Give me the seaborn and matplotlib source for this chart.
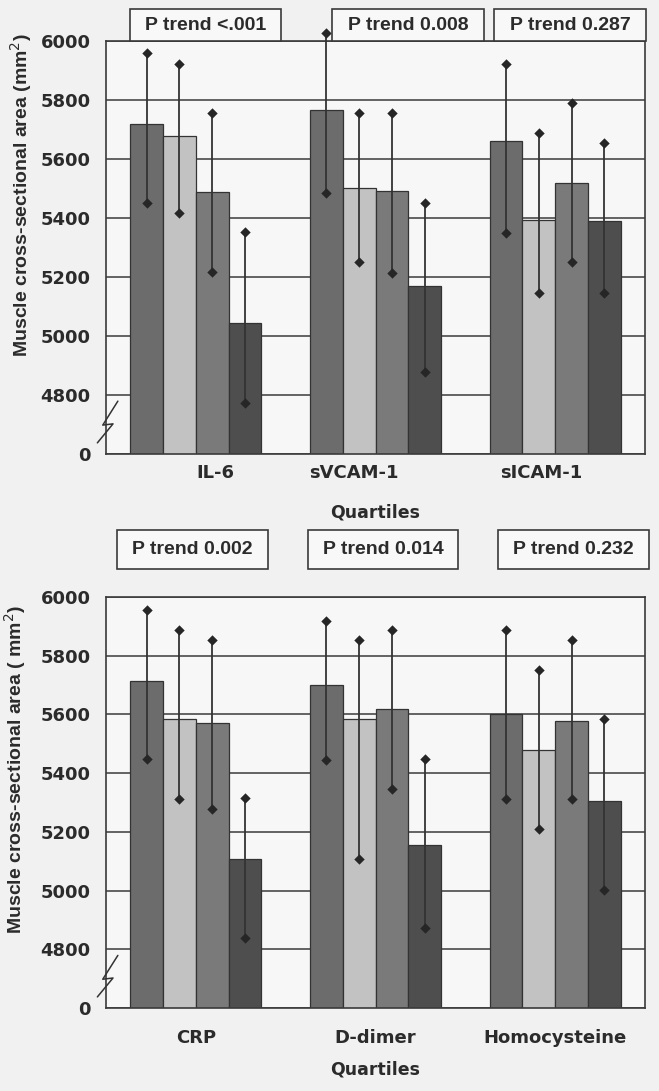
import matplotlib
matplotlib.use("Agg")
import matplotlib.pyplot as plt
from matplotlib.patches import Rectangle
import numpy as np
import pandas as pd
import seaborn as sns

# ---- data ----
quartiles = ["Q1", "Q2", "Q3", "Q4"]

top_markers = ["IL-6", "sVCAM-1", "sICAM-1"]
top_means = [[5718, 5679, 5489, 5045], [5767, 5501, 5493, 5170], [5662, 5393, 5518, 5390]]
top_upper = [[5958, 5922, 5755, 5352], [6026, 5755, 5755, 5452], [5922, 5687, 5789, 5653]]
top_lower = [[5452, 5416, 5218, 4774], [5486, 5252, 5212, 4879], [5348, 5145, 5252, 5147]]
top_ptrend = ["P trend <.001", "P trend 0.008", "P trend 0.287"]

bottom_markers = ["CRP", "D-dimer", "Homocysteine"]
bottom_means = [[5714, 5585, 5572, 5108], [5700, 5586, 5619, 5156], [5603, 5480, 5578, 5304]]
bottom_upper = [[5955, 5887, 5853, 5315], [5919, 5853, 5887, 5447], [5887, 5753, 5853, 5583]]
bottom_lower = [[5447, 5313, 5279, 4839], [5444, 5109, 5345, 4873], [5313, 5211, 5311, 5003]]
bottom_ptrend = ["P trend 0.002", "P trend 0.014", "P trend 0.232"]

y_ticks = [4600, 4800, 5000, 5200, 5400, 5600, 5800, 6000]
y_ticklabels = ["0", "4800", "5000", "5200", "5400", "5600", "5800", "6000"]

bar_colors = ["#6c6c6c", "#c2c2c2", "#7a7a7a", "#4e4e4e"]
ink = "#2b2b2b"
W, H = 659, 1091


def make_frame(markers, means, lower, upper):
    rows = []
    for i, m in enumerate(markers):
        for j, q in enumerate(quartiles):
            rows.append({"marker": m, "quartile": q, "value": means[i][j],
                         "lo": lower[i][j], "hi": upper[i][j]})
    return pd.DataFrame(rows)


def fig_rect(x0, y0, x1, y1):
    # pixel box (top-left origin) -> figure fraction rectangle
    return x0 / W, 1 - y1 / H, (x1 - x0) / W, (y1 - y0) / H


def draw_panel(fig, rect, frame, markers, ylabel, label_xy, tick_pad, label_shift,
               xlabel_y, boxes, ptexts):
    ax = fig.add_axes(fig_rect(*rect))
    ax.set_facecolor("#f7f7f7")
    sns.barplot(data=frame, x="marker", y="value", hue="quartile", order=markers,
                hue_order=quartiles, palette=bar_colors, errorbar=None, width=0.73,
                edgecolor="#333333", linewidth=0.9, legend=False, ax=ax, zorder=2)
    ax.set_ylim(4600, 6000)
    ax.set_xlim(-0.5, len(markers) - 0.5)

    # error bars with diamond ends, placed at the bar centres
    bars = sorted(ax.patches, key=lambda p: p.get_x())
    xs = np.array([p.get_x() + p.get_width() / 2 for p in bars])
    lo = frame["lo"].to_numpy()
    hi = frame["hi"].to_numpy()
    ax.vlines(xs, lo, hi, color="#333333", lw=1.3, zorder=4, clip_on=False)
    for ends in (lo, hi):
        ax.scatter(xs, ends, marker="D", s=28, color="#262626", zorder=5, clip_on=False, linewidths=0)

    ax.set_yticks(y_ticks)
    ax.set_yticklabels(y_ticklabels)
    ax.set_xticks(np.arange(-0.5, len(markers)), labels=[""] * (len(markers) + 1))
    ax.set_xticks(np.arange(len(markers)) + np.array(label_shift), labels=markers, minor=True)
    ax.tick_params(axis="x", which="major", length=9, width=1.2, color="#333333", direction="out")
    ax.tick_params(axis="x", which="minor", length=0, pad=tick_pad)
    ax.tick_params(axis="y", length=6, width=1.2, color="#333333", pad=5)
    for lab in ax.get_xticklabels(minor=True) + ax.get_yticklabels():
        lab.set_fontweight("bold")
        lab.set_color(ink)
        lab.set_fontsize(13)

    ax.set_axisbelow(True)
    ax.yaxis.grid(True, color="#4a4a4a", lw=1.2)
    ax.xaxis.grid(False)
    for s in ax.spines.values():
        s.set_visible(True)
        s.set_color("#3a3a3a")
        s.set_linewidth(1.2)

    ax.set_xlabel("Quartiles", fontsize=12.5, fontweight="bold", color=ink)
    ax.xaxis.set_label_coords(0.5, xlabel_y)
    ax.set_ylabel(ylabel, fontsize=14, fontweight="bold", color=ink,
                  family=["Liberation Sans", "DejaVu Sans"], va="center")
    ax.yaxis.set_label_coords(*label_xy)

    # axis break symbol between 0 and 4800
    zx = [-0.016, 0.013, -0.006, 0.022]
    zy = [0.027, 0.073, 0.070, 0.128]
    ax.plot(zx, zy, transform=ax.transAxes, color="#333333", lw=1.1, clip_on=False, zorder=6)

    # P trend boxes
    for (bx0, by0, bx1, by1), txt in zip(boxes, ptexts):
        r = fig_rect(bx0, by0, bx1, by1)
        fig.add_artist(Rectangle((r[0], r[1]), r[2], r[3], transform=fig.transFigure,
                                 facecolor="#f8f8f8", edgecolor="#3a3a3a", lw=1.2, zorder=7))
        fig.text(r[0] + r[2] / 2, r[1] + r[3] / 2, txt, ha="center", va="center",
                 fontsize=14, fontweight="bold", color=ink,
                 family=["Liberation Sans", "DejaVu Sans"], zorder=8)
    return ax


sns.set_style("white")
plt.rcParams["font.family"] = ["DejaVu Sans"]

fig = plt.figure(figsize=(W / 100, H / 100), dpi=100)
fig.patch.set_facecolor("#f1f1f1")

top = make_frame(top_markers, top_means, top_lower, top_upper)
bottom = make_frame(bottom_markers, bottom_means, bottom_lower, bottom_upper)

draw_panel(fig, (106, 41, 645, 454), top, top_markers,
           "Muscle cross-sectional area (mm$^2$)", (-0.158, 0.627), 7, [0.11, -0.12, -0.08], -0.12,
           [(130, 9, 281, 41), (332, 9, 484, 41), (494, 9, 646, 41)], top_ptrend)
draw_panel(fig, (106, 597, 645, 1008), bottom, bottom_markers,
           "Muscle cross-sectional area ( mm$^2$)", (-0.169, 0.58), 15, [0, 0, 0], -0.128,
           [(117, 530, 268, 569), (308, 530, 458, 569), (498, 530, 649, 569)], bottom_ptrend)

fig.savefig("out.png", dpi=100, facecolor=fig.get_facecolor())
